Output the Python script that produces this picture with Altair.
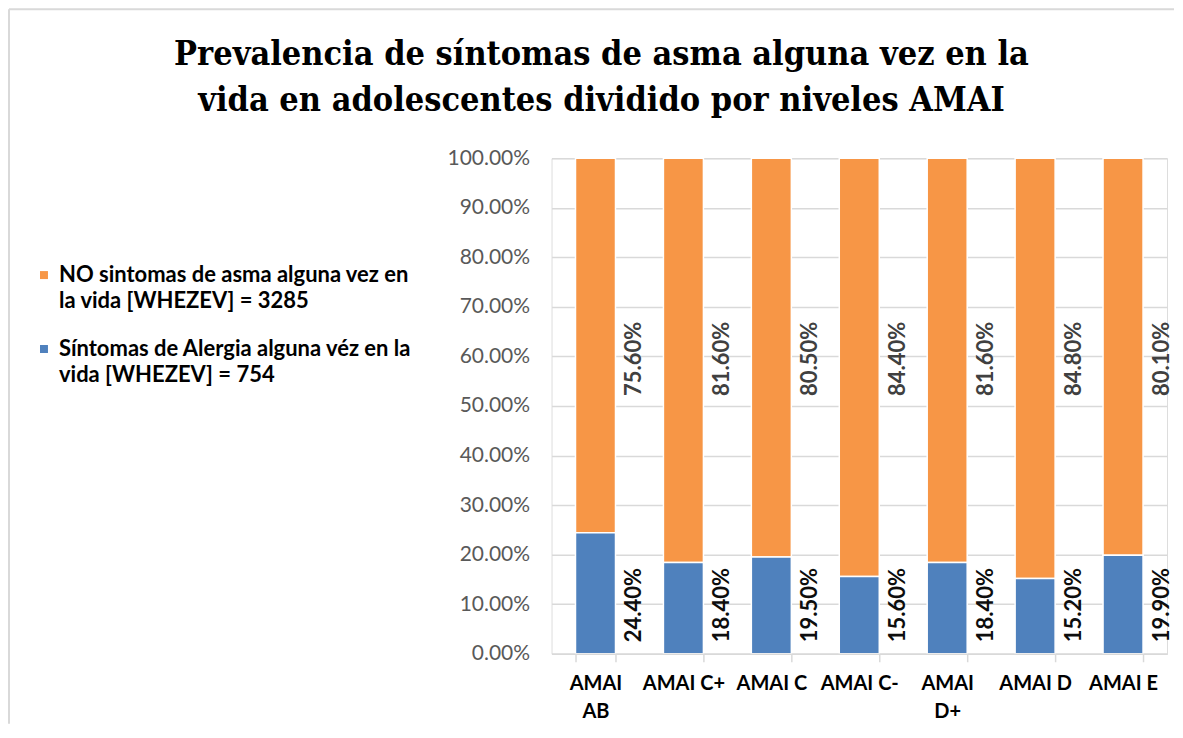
import altair as alt
import pandas as pd

categories = ["AMAI AB", "AMAI C+", "AMAI C", "AMAI C-", "AMAI D+", "AMAI D", "AMAI E"]
no_sintomas = [75.6, 81.6, 80.5, 84.4, 81.6, 84.8, 80.1]
sintomas = [24.4, 18.4, 19.5, 15.6, 18.4, 15.2, 19.9]
series = [
    "NO sintomas de asma alguna vez en la vida [WHEZEV] = 3285",
    "Síntomas de Alergia alguna véz en la vida [WHEZEV] = 754",
]
series_lines = [
    ["NO sintomas de asma alguna vez en", "la vida [WHEZEV] = 3285"],
    ["Síntomas de Alergia alguna véz en la", "vida [WHEZEV] = 754"],
]
colors = ["#F79646", "#4F81BD"]
title_lines = [
    "Prevalencia de síntomas de asma alguna vez en la",
    "vida en adolescentes dividido por niveles AMAI",
]

rows = []
for i, c in enumerate(categories):
    rows.append({"cat": c, "serie": series[0], "value": no_sintomas[i] / 100, "order": 1})
    rows.append({"cat": c, "serie": series[1], "value": sintomas[i] / 100, "order": 0})
df = pd.DataFrame(rows)

legend_expr = "datum.label == '%s' ? ['%s', '%s'] : ['%s', '%s']" % (
    series[0], series_lines[0][0], series_lines[0][1], series_lines[1][0], series_lines[1][1]
)
xlabel_expr = "datum.label == 'AMAI AB' ? ['AMAI', 'AB'] : datum.label == 'AMAI D+' ? ['AMAI', 'D+'] : datum.label"

x_enc = alt.X(
    "cat:N",
    sort=categories,
    title=None,
    scale=alt.Scale(paddingInner=0.545, paddingOuter=0.2725),
    axis=alt.Axis(
        labelAngle=0,
        labelFont="Lato",
        labelFontWeight="bold",
        labelFontSize=20,
        labelColor="#000000",
        labelLineHeight=28,
        labelPadding=12,
        labelExpr=xlabel_expr,
        tickBand="extent",
        tickSize=8,
        tickColor="#d9d9d9",
        tickWidth=1.5,
        domainColor="#d9d9d9",
        domainWidth=1.5,
        grid=False,
        zindex=1,
    ),
)

y_scale = alt.Scale(domain=[0, 1])

bars = (
    alt.Chart(df)
    .mark_bar(stroke="white", strokeWidth=1.5)
    .encode(
        x=x_enc,
        y=alt.Y(
            "value:Q",
            stack="zero",
            scale=y_scale,
            title=None,
            axis=alt.Axis(
                format=".2%",
                values=[i / 10 for i in range(11)],
                labelFont="Lato",
                labelFontSize=21,
                labelColor="#595959",
                labelPadding=22,
                ticks=False,
                domain=False,
                gridColor="#d9d9d9",
                gridWidth=1.5,
            ),
        ),
        color=alt.Color(
            "serie:N",
            scale=alt.Scale(domain=series, range=colors),
            legend=alt.Legend(
                title=None,
                orient="none",
                legendX=-519,
                legendY=106,
                symbolType="square",
                symbolSize=64,
                symbolStrokeWidth=0,
                labelFont="Lato",
                labelFontWeight="bold",
                labelFontSize=22,
                labelColor="#000000",
                labelLimit=600,
                labelOffset=4,
                rowPadding=26,
                labelExpr=legend_expr,
            ),
        ),
        order=alt.Order("order:Q"),
    )
)

labels_top = (
    alt.Chart(df)
    .transform_filter(alt.datum.order == 1)
    .mark_text(angle=270, font="Lato", fontWeight="bold", fontSize=22, color="#404040",
               align="center", baseline="middle", xOffset=39)
    .encode(x=alt.X("cat:N", sort=categories), y=alt.datum(0.595), text=alt.Text("value:Q", format=".2%"))
)

labels_bottom = (
    alt.Chart(df)
    .transform_filter(alt.datum.order == 0)
    .mark_text(angle=270, font="Lato", fontWeight="bold", fontSize=22, color="#0d0d0d",
               align="center", baseline="middle", xOffset=39)
    .encode(x=alt.X("cat:N", sort=categories), y=alt.datum(0.098), text=alt.Text("value:Q", format=".2%"))
)

frame_df = pd.DataFrame({"k": [0]})
border_top = alt.Chart(frame_df).mark_rule(color="#d9d9d9", strokeWidth=2).encode(
    x=alt.value(-543), x2=alt.value(623), y=alt.value(-149)
)
border_left = alt.Chart(frame_df).mark_rule(color="#d9d9d9", strokeWidth=2).encode(
    x=alt.value(-543), y=alt.value(-149), y2=alt.value(566)
)

chart = (
    alt.layer(bars, labels_top, labels_bottom, border_top, border_left)
    .properties(
        width=616,
        height=496,
        padding=0,
        title=alt.TitleParams(
            text=title_lines,
            font="DejaVu Serif Condensed",
            fontWeight="bold",
            fontSize=34,
            lineHeight=46,
            color="#000000",
            anchor="middle",
            frame="bounds",
            dx=10,
            offset=-110,
        ),
    )
    .configure_view(stroke=None)
    .configure(background="white", style={"guide-label": {"lineHeight": 26}})
)

chart.save("out.html", embed_options={"renderer": "svg", "actions": False})
